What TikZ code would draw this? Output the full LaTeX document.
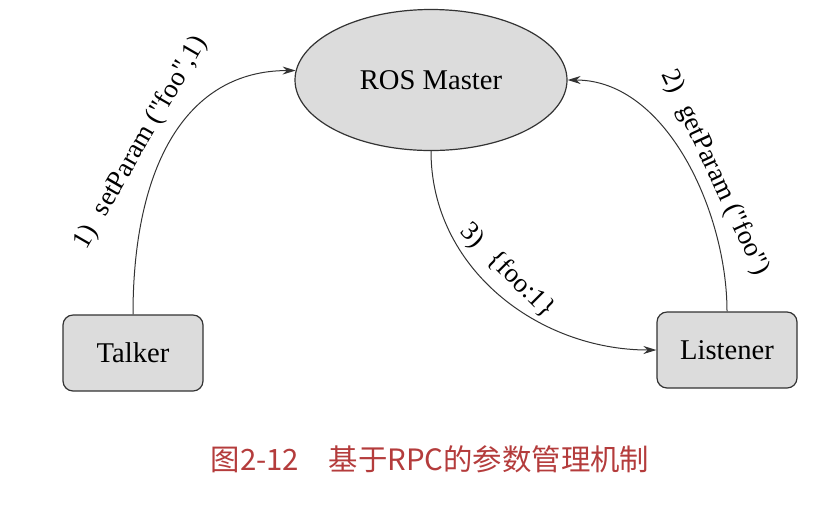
\documentclass[tikz,border=0pt]{standalone}
\usepackage{fontspec}
\setmainfont{Liberation Serif}[Ligatures=TeXOff]
\newfontfamily\cjk{Noto Sans CJK SC}
\usetikzlibrary{shapes.geometric,arrows.meta}
\definecolor{boxgray}{HTML}{DCDCDC}
\definecolor{linegray}{HTML}{333333}
\definecolor{capred}{HTML}{B43C3C}

\begin{document}
\begin{tikzpicture}[
x=0.5pt,
y=-0.5pt,
master/.style={
  draw=linegray,
  fill=boxgray,
  ellipse,
  line width=0.6pt,
  minimum width=136pt,
  minimum height=70.5pt,
  font=\fontsize{14.3}{16}\selectfont
  },
client/.style={
  draw=linegray,
  fill=boxgray,
  rounded corners=5pt,
  line width=0.6pt,
  minimum width=70pt,
  minimum height=38pt,
  font=\fontsize{14.3}{16}\selectfont
  },
msg/.style={
  font=\fontsize{13.5}{16}\selectfont,
  inner sep=0pt
  },
link/.style={
  draw=linegray,
  line width=0.5pt,
  ->
  },
>={Stealth[length=6.5pt,width=4pt]}
]
\useasboundingbox (0,0) rectangle (823,505);
\node[master] (ros) at (431,80) {ROS Master};
\node[client] (talker) at (133,353) {Talker};
\node[client] (listener) at (727,350) {Listener};
\draw[link] (talker.north) to[out=90,in=180,out looseness=1.3,in looseness=0.95] (ros.176);
\draw[link] (listener.north) to[out=90,in=0,looseness=0.9] (ros.east);
\draw[link] (ros.south) to[out=-90,in=180] (listener.west);
\node[msg,rotate=60] (set) at (141,143) {1)\hspace{0.6em}setParam ("foo",1)};
\node[msg,rotate=-65] (get) at (715,173) {2)\hspace{0.6em}getParam ("foo")};
\node[msg,rotate=-45] (val) at (507,271) {3)\hspace{0.6em}\{foo:1\}};
\node[font=\cjk\fontsize{14.7}{17}\selectfont,text=capred] (cap) at (430,459) {图2-12　基于RPC的参数管理机制};

\end{tikzpicture}
\end{document}
